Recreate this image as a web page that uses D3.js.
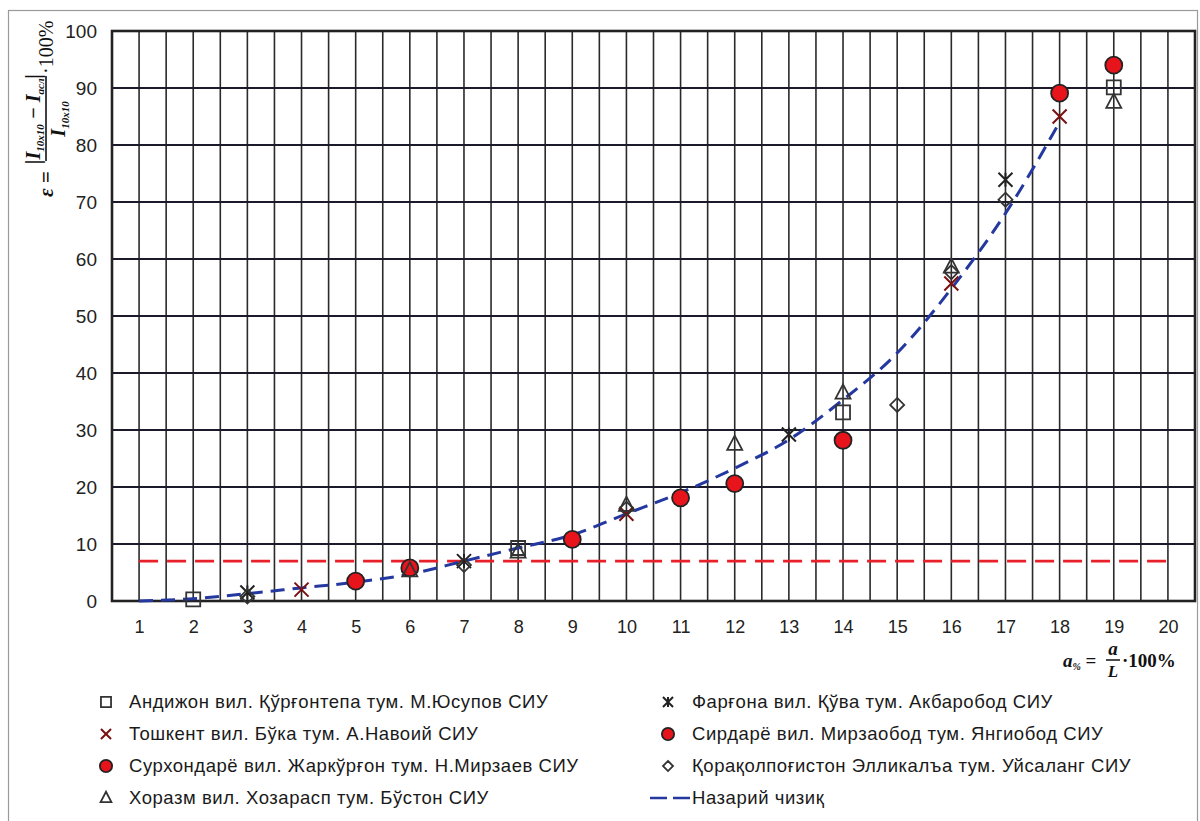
<!DOCTYPE html>
<html><head><meta charset="utf-8">
<script src="https://cdn.jsdelivr.net/npm/d3@7"></script>
<style>
body{margin:0;background:#fff;}
svg{display:block;font-family:"Liberation Sans",Arial,sans-serif;}
</style></head>
<body>
<svg id="chart" width="1200" height="821"></svg>
<script>
// ---- data ----
const xTicks = [1,2,3,4,5,6,7,8,9,10,11,12,13,14,15,16,17,18,19,20];
const yTicks = [0,10,20,30,40,50,60,70,80,90,100];
const andijon = [[2,0.3],[8,9.3],[14,33.1],[19,90.1]];
const toshkent = [[4,2.0],[10,15.3],[16,55.7],[18,85.0]];
const surxondaryo = [[6,5.8],[9,10.8],[12,20.6],[18,89.1]];
const xorazm = [[6,5.3],[8,8.6],[10,16.8],[12,27.5],[14,36.5],[16,58.6],[19,87.5]];
const fargona = [[3,1.5],[7,7.0],[13,29.2],[17,73.9]];
const sirdaryo = [[5,3.5],[11,18.1],[14,28.2],[19,94.0]];
const qoraqalpoq = [[3,0.8],[7,6.3],[10,16.2],[15,34.4],[16,57.7],[17,70.4]];
const theory = [[1,0],[2,0.4],[3,1.3],[4,2.3],[5,3.3],[6,4.7],[7,7.0],[8,9.3],[9,11.6],[10,15.3],[11,19.0],[12,23.3],[13,28.3],[14,35.3],[15,43.5],[16,54.8],[17,68.0],[18,84.0]];
const limitValue = 7;
const limitRange = [1,20];
const legendLeft = ["Андижон вил. Қўрғонтепа тум. М.Юсупов СИУ","Тошкент вил. Бўка тум. А.Навоий СИУ","Сурхондарё вил. Жаркўрғон тум. Н.Мирзаев СИУ","Хоразм вил. Хозарасп тум. Бўстон СИУ"];
const legendRight = ["Фарғона вил. Қўва тум. Акбаробод СИУ","Сирдарё вил. Мирзаобод тум. Янгиобод СИУ","Қорақолпоғистон Элликалъа тум. Уйсаланг СИУ","Назарий чизиқ"];

const svg = d3.select("#chart");
const L=112,R=1195,T=31,B=601;
const x = d3.scaleLinear().domain([0.5,20.5]).range([L,R]);
const y = d3.scaleLinear().domain([0,100]).range([B,T]);

// outer border
svg.append("rect").attr("x",8.5).attr("y",10.5).attr("width",1189).attr("height",812).attr("fill","none").attr("stroke","#9a9a9a").attr("stroke-width",1.2);

// grid
const g = svg.append("g");
const vGrid = d3.range(0.5,20.51,0.5);
g.selectAll("line.v").data(vGrid).join("line")
 .attr("x1",d=>x(d)).attr("x2",d=>x(d)).attr("y1",T).attr("y2",B)
 .attr("stroke","#2a2a2a").attr("stroke-width",1.6);
g.selectAll("line.h").data(yTicks).join("line")
 .attr("x1",L).attr("x2",R).attr("y1",d=>y(d)).attr("y2",d=>y(d))
 .attr("stroke","#1a1a2a").attr("stroke-width",1.8);
svg.append("rect").attr("x",L).attr("y",T).attr("width",R-L).attr("height",B-T)
 .attr("fill","none").attr("stroke","#222").attr("stroke-width",2.6);

// axes labels
const yAxis = d3.axisLeft(y).tickValues(yTicks).tickSize(0).tickPadding(0).tickFormat(d3.format("d"));
const ya = svg.append("g").attr("transform",`translate(${L-15},0)`).call(yAxis);
ya.select(".domain").remove();
ya.selectAll("text").attr("font-size",19).attr("fill","#222").attr("font-family","Liberation Sans, Arial, sans-serif");
const xAxis = d3.axisBottom(x).tickValues(xTicks).tickSize(0).tickPadding(0).tickFormat(d3.format("d"));
const xa = svg.append("g").attr("transform",`translate(0,${B+19})`).call(xAxis);
xa.select(".domain").remove();
xa.selectAll("text").attr("font-size",18).attr("fill","#222").attr("font-family","Liberation Sans, Arial, sans-serif");

// limit line
svg.append("line").attr("x1",x(limitRange[0])).attr("x2",x(limitRange[1]))
 .attr("y1",y(limitValue)).attr("y2",y(limitValue))
 .attr("stroke","#e8202a").attr("stroke-width",2.6).attr("stroke-dasharray","19,9");

// theory curve
const line = d3.line().x(d=>x(d[0])).y(d=>y(d[1])).curve(d3.curveMonotoneX);
svg.append("path").datum(theory).attr("d",line).attr("fill","none")
 .attr("stroke","#2438a0").attr("stroke-width",3).attr("stroke-dasharray","14,8");

// markers
function sq(s){return `M${-s},${-s}H${s}V${s}H${-s}Z`;}
function cross(s){return `M${-s},${-s}L${s},${s}M${s},${-s}L${-s},${s}`;}
function star(s){return `M${-s},${-s}L${s},${s}M${s},${-s}L${-s},${s}M0,${-s}V${s}`;}
function tri(s){return `M0,${-s*1.15}L${s},${s*0.75}L${-s},${s*0.75}Z`;}
function dia(s){return `M0,${-s}L${s},0L0,${s}L${-s},0Z`;}
const styles = {
 square:{path:sq, size:7, fill:"none", stroke:"#333", sw:1.8},
 cross:{path:cross, size:7, fill:"none", stroke:"#7a1010", sw:2},
 circle:{circle:true, size:8.5, fill:"#e8141c", stroke:"#222", sw:1.8},
 tri:{path:tri, size:7.5, fill:"none", stroke:"#333", sw:1.8},
 star:{path:star, size:7, fill:"none", stroke:"#222", sw:2},
 dia:{path:dia, size:7, fill:"none", stroke:"#333", sw:1.8}
};
function drawMarker(sel, st, scale){
 const sz = st.size*scale;
 if(st.circle){
  sel.append("circle").attr("r",sz).attr("fill",st.fill).attr("stroke",st.stroke).attr("stroke-width",st.sw);
 } else {
  sel.append("path").attr("d",st.path(sz)).attr("fill",st.fill).attr("stroke",st.stroke).attr("stroke-width",st.sw);
 }
}
const series = [
 {data:andijon, st:styles.square},
 {data:toshkent, st:styles.cross},
 {data:surxondaryo, st:styles.circle},
 {data:sirdaryo, st:styles.circle},
 {data:xorazm, st:styles.tri},
 {data:fargona, st:styles.star},
 {data:qoraqalpoq, st:styles.dia}
];
series.forEach(s=>{
 svg.append("g").selectAll("g").data(s.data).join("g")
  .attr("transform",d=>`translate(${x(d[0])},${y(d[1])})`)
  .each(function(){drawMarker(d3.select(this), s.st, 1);});
});

// legend
const rowsY=[702,734,766,798];
const leftSt=[styles.square,styles.cross,styles.circle,styles.tri];
const rightSt=[styles.star,styles.circle,styles.dia,null];
const legFont = 18.5, legLS = 0.55;
legendLeft.forEach((t,i)=>{
 const gg=svg.append("g").attr("transform",`translate(106,${rowsY[i]})`);
 drawMarker(gg,leftSt[i],0.72);
 svg.append("text").attr("x",129).attr("y",rowsY[i]).attr("dy","0.35em").attr("font-size",legFont).attr("letter-spacing",legLS).attr("fill","#1a1a1a").text(t);
});
legendRight.forEach((t,i)=>{
 if(rightSt[i]){
  const gg=svg.append("g").attr("transform",`translate(668,${rowsY[i]})`);
  drawMarker(gg,rightSt[i],0.72);
 } else {
  svg.append("line").attr("x1",650).attr("x2",690).attr("y1",rowsY[i]).attr("y2",rowsY[i])
   .attr("stroke","#2438a0").attr("stroke-width",2.6).attr("stroke-dasharray","17,6");
 }
 svg.append("text").attr("x",692).attr("y",rowsY[i]).attr("dy","0.35em").attr("font-size",legFont).attr("letter-spacing",legLS).attr("fill","#1a1a1a").text(t);
});

// y-axis formula label (rotated)
const yl = svg.append("g").attr("transform","translate(46,197) rotate(-90)")
 .attr("font-family","Liberation Serif, Times New Roman, serif").attr("fill","#111");
yl.append("text").attr("x",0).attr("y",7).attr("font-size",21).attr("font-style","italic").attr("font-weight","bold").text("ε =");
yl.append("line").attr("x1",36).attr("x2",121).attr("y1",0).attr("y2",0).attr("stroke","#111").attr("stroke-width",1.6);
const num = yl.append("text").attr("x",78).attr("y",-6).attr("text-anchor","middle").attr("font-size",20).attr("font-style","italic").attr("font-weight","bold");
num.append("tspan").text("|I");
num.append("tspan").attr("font-size",11).attr("dy",4).text("10x10");
num.append("tspan").attr("dy",-4).text(" − I");
num.append("tspan").attr("font-size",11).attr("dy",4).text("асл");
num.append("tspan").attr("dy",-4).text("|");
const den = yl.append("text").attr("x",78).attr("y",19).attr("text-anchor","middle").attr("font-size",20).attr("font-style","italic").attr("font-weight","bold");
den.append("tspan").text("I");
den.append("tspan").attr("font-size",11).attr("dy",4).text("10x10");
yl.append("text").attr("x",123).attr("y",7).attr("font-size",20).text("·100%");

// x-axis formula label
const xl = svg.append("g").attr("font-family","Liberation Serif, Times New Roman, serif").attr("fill","#111");
const ax = xl.append("text").attr("x",1063).attr("y",667).attr("font-size",19).attr("font-style","italic").attr("font-weight","bold");
ax.append("tspan").text("a");
ax.append("tspan").attr("font-size",10).attr("dy",3).text("%");
ax.append("tspan").attr("dy",-3).attr("font-style","normal").text(" =");
xl.append("text").attr("x",1113).attr("y",655).attr("text-anchor","middle").attr("font-size",19).attr("font-style","italic").attr("font-weight","bold").text("a");
xl.append("line").attr("x1",1106).attr("x2",1120).attr("y1",660).attr("y2",660).attr("stroke","#111").attr("stroke-width",1.5);
xl.append("text").attr("x",1113).attr("y",677).attr("text-anchor","middle").attr("font-size",17).attr("font-style","italic").attr("font-weight","bold").text("L");
xl.append("text").attr("x",1122).attr("y",667).attr("font-size",19).attr("font-weight","bold").text("·100%");
</script>
</body></html>
